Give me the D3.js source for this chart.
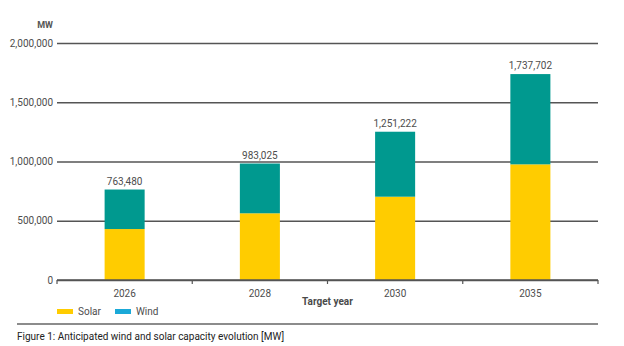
<!DOCTYPE html>
<html>
<head>
<meta charset="utf-8">
<script src="https://cdn.jsdelivr.net/npm/d3@7"></script>
<style>
  body { margin: 0; background: #fff; }
  text { font-family: Roboto, "Liberation Sans Narrow", sans-serif; }
</style>
</head>
<body>
<div id="container"></div>
<script>
/* DATA */
const years = ["2026", "2028", "2030", "2035"];
const solar = [430000, 563000, 703000, 976000];
const wind = [333480, 420025, 548222, 761702];
const totals = [763480, 983025, 1251222, 1737702];
const yTicks = [0, 500000, 1000000, 1500000, 2000000];
const seriesNames = ["Solar", "Wind"];

/* CONSTANTS */
const width = 624,
  height = 346,
  margin = { top: 43, bottom: 66, left: 57, right: 26 };

const colors = { Solar: "#ffcc00", Wind: "#00998f" };
const legendColors = { Solar: "#ffcc00", Wind: "#1aa9d8" };

const rows = years.map((y, i) => ({ year: y, Solar: solar[i], Wind: wind[i], total: totals[i] }));

const svg = d3.select("#container")
  .append("svg")
  .attr("width", width)
  .attr("height", height);

// + SCALES
const xScale = d3.scaleBand()
  .domain(years)
  .range([margin.left, width - margin.right])
  .paddingInner(0.704)
  .paddingOuter(0.352);

const yScale = d3.scaleLinear()
  .domain([0, 2000000])
  .range([height - margin.bottom, margin.top]);

// + GRIDLINES
const yAxis = d3.axisLeft(yScale)
  .tickValues(yTicks)
  .tickFormat(d3.format(","))
  .tickSize(-(width - margin.left - margin.right))
  .tickPadding(4);

svg.append("g")
  .attr("transform", `translate(${margin.left},0)`)
  .call(yAxis)
  .call(g => g.select(".domain").remove())
  .call(g => g.selectAll(".tick line").attr("stroke", "#555").attr("stroke-width", 1.5))
  .call(g => g.selectAll(".tick text")
    .attr("fill", "#4d4d4d")
    .attr("font-size", 10)
    .attr("x", -4));

// + STACKED BARS
const stack = d3.stack().keys(seriesNames)(rows);

svg.append("g")
  .selectAll("g")
  .data(stack)
  .join("g")
  .attr("fill", d => colors[d.key])
  .selectAll("rect")
  .data(d => d)
  .join("rect")
  .attr("x", d => xScale(d.data.year))
  .attr("y", d => yScale(d[1]))
  .attr("width", xScale.bandwidth())
  .attr("height", d => yScale(d[0]) - yScale(d[1]));

// total labels
svg.append("g")
  .selectAll("text")
  .data(rows)
  .join("text")
  .attr("x", d => xScale(d.year) + xScale.bandwidth() / 2)
  .attr("y", d => yScale(d.total) - 5)
  .attr("text-anchor", "middle")
  .attr("fill", "#4d4d4d")
  .attr("font-size", 10)
  .text(d => d3.format(",")(d.total));

// + X AXIS
const x0 = margin.left, x1 = width - margin.right;
const xAxisG = svg.append("g")
  .attr("transform", `translate(0,${yScale(0)})`);

xAxisG.append("line")
  .attr("x1", x0).attr("x2", x1)
  .attr("stroke", "#555").attr("stroke-width", 1.5);

// tick marks on the band boundaries
const bounds = [x0].concat(years.map((y, i) => x0 + xScale.step() * (i + 1)));
xAxisG.selectAll(".xt")
  .data(bounds)
  .join("line")
  .attr("x1", d => d).attr("x2", d => d)
  .attr("y1", 0).attr("y2", 4)
  .attr("stroke", "#555").attr("stroke-width", 1.2);

xAxisG.selectAll(".xl")
  .data(years)
  .join("text")
  .attr("x", d => xScale(d) + xScale.bandwidth() / 2)
  .attr("y", 17)
  .attr("text-anchor", "middle")
  .attr("fill", "#4d4d4d")
  .attr("font-size", 10)
  .text(d => d);

svg.append("text")
  .attr("x", (x0 + x1) / 2)
  .attr("y", 305)
  .attr("text-anchor", "middle")
  .attr("fill", "#4a4a4a")
  .attr("font-size", 10)
  .attr("font-weight", "bold")
  .text("Target year");

svg.append("text")
  .attr("x", 53)
  .attr("y", 28)
  .attr("text-anchor", "end")
  .attr("fill", "#555")
  .attr("font-size", 9)
  .attr("font-weight", "bold")
  .text("MW");

// + LEGEND
const legend = svg.append("g").attr("transform", "translate(57,309)");
const lg = legend.selectAll("g")
  .data(seriesNames)
  .join("g")
  .attr("transform", (d, i) => `translate(${i * 58},0)`);
lg.append("rect")
  .attr("width", 16).attr("height", 5)
  .attr("fill", d => legendColors[d]);
lg.append("text")
  .attr("x", 21).attr("y", 6)
  .attr("fill", "#4d4d4d")
  .attr("font-size", 10)
  .text(d => d);

// separator + caption
svg.append("line")
  .attr("x1", 17).attr("x2", x1)
  .attr("y1", 324).attr("y2", 324)
  .attr("stroke", "#666").attr("stroke-width", 1.5);

svg.append("text")
  .attr("x", 17)
  .attr("y", 340)
  .attr("fill", "#222")
  .attr("font-size", 10)
  .text("Figure 1: Anticipated wind and solar capacity evolution [MW]");
</script>
</body>
</html>
